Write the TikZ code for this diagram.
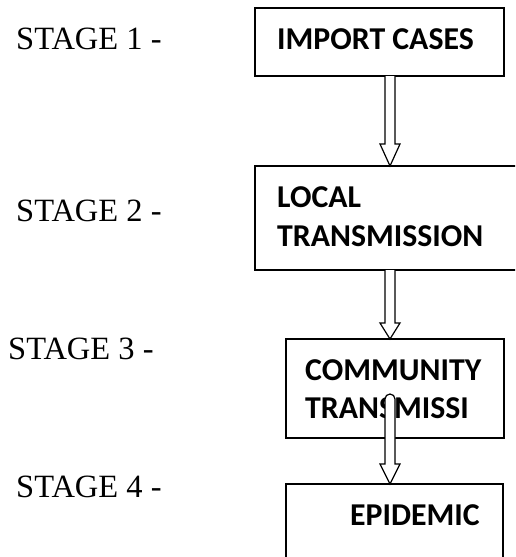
\documentclass[tikz,border=0pt]{standalone}
\usepackage{fontspec}
\setmainfont{Liberation Serif}
\newfontfamily\boxfont{Carlito}
\usetikzlibrary{calc}

\tikzset{
  stagebox/.style={draw, line width=1.6pt, inner sep=0pt, outer sep=0pt},
  stagelabel/.style={anchor=base west, inner sep=0pt, font=\fontsize{32.5}{32.5}\selectfont},
  boxtext/.style={anchor=base west, inner sep=0pt, font=\boxfont\bfseries\fontsize{31.8}{31.8}\selectfont},
  arrowbody/.style={draw, fill=white, line width=1.2pt, line join=miter}
}

% hollow block arrow: #1 start, #2 tip, #3 head length
\newcommand\hollowarrow[3]{%
  \path[arrowbody] ($(#1)+(-5,0)$) -- ($(#2)+(-5,#3)$) -- ($(#2)+(-10,#3)$) -- (#2)
    -- ($(#2)+(10,#3)$) -- ($(#2)+(5,#3)$) -- ($(#1)+(5,0)$);
}

\begin{document}
\begin{tikzpicture}[x=1pt, y=1pt]
  \useasboundingbox (0,0) rectangle (515,-557);
  \clip (0,0) rectangle (515,-557);

  % stage boxes
  \node[stagebox, minimum width=249pt, minimum height=68pt]  (b1) at (379.5,-42) {};
  \node[stagebox, minimum width=285pt, minimum height=104pt] (b2) at (397.5,-218) {};
  \node[stagebox, minimum width=218pt, minimum height=99pt]  (b3) at (395,-388.5) {};
  \node[stagebox, minimum width=217pt, minimum height=116pt] (b4) at (394.5,-542) {};

  % stage labels
  \node[stagelabel] (s1) at (16,-49)  {STAGE 1 -};
  \node[stagelabel] (s2) at (16,-221) {STAGE 2 -};
  \node[stagelabel] (s3) at (8,-359)  {STAGE 3 -};
  \node[stagelabel] (s4) at (16,-497) {STAGE 4 -};

  % box texts
  \node[boxtext] (t1)  at (277,-49)  {IMPORT CASES};
  \node[boxtext] (t2a) at (277,-207) {LOCAL};
  \node[boxtext] (t2b) at (277,-246) {TRANSMISSION};
  \node[boxtext] (t3a) at (305,-380) {COMMUNITY};
  \node[boxtext] (t3b) at (305,-418) {TRANSMISSI};
  \node[boxtext] (t4)  at (350,-525) {EPIDEMIC};

  % arrow axis
  \coordinate (ax) at (390,0);
  \coordinate (a3s) at (390,-399);

  % connectors
  \hollowarrow{b1.south -| ax}{b2.north -| ax}{22}
  \hollowarrow{b2.south -| ax}{b3.north -| ax}{16}
  \path[arrowbody] ($(a3s)+(5,0)$) arc[start angle=0, end angle=180, radius=5]
    -- ($(b4.north -| ax)+(-5,20)$) -- ($(b4.north -| ax)+(-10,20)$) -- (b4.north -| ax)
    -- ($(b4.north -| ax)+(10,20)$) -- ($(b4.north -| ax)+(5,20)$) -- cycle;
\end{tikzpicture}
\end{document}
